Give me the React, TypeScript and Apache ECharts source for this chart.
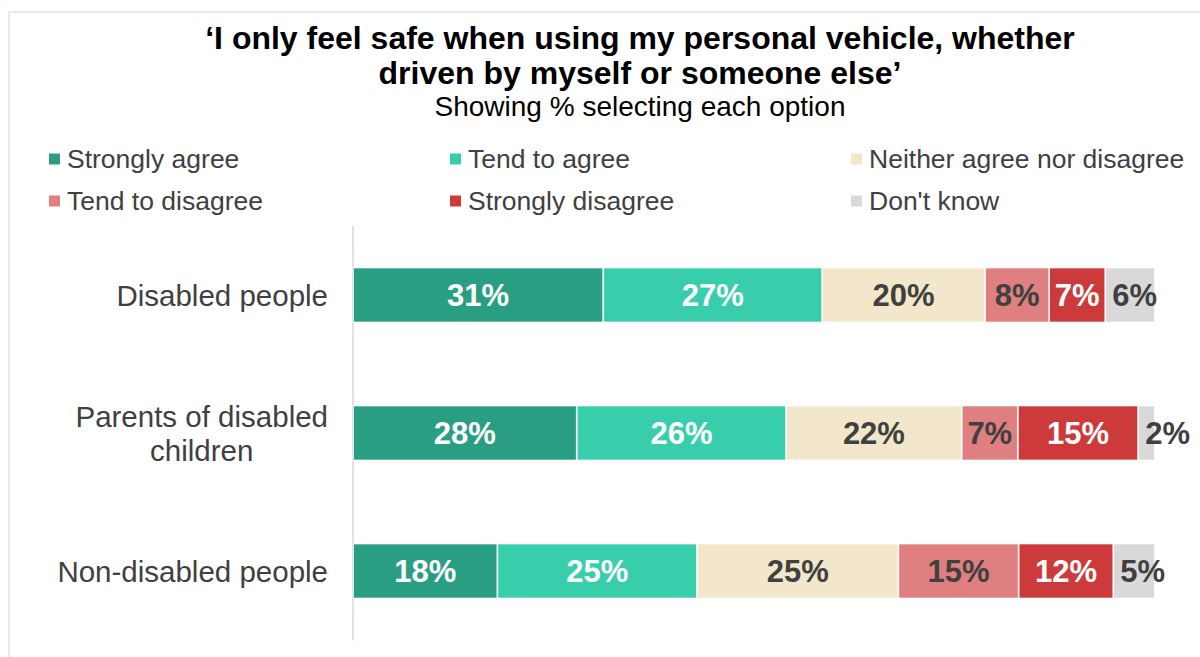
import React, { useEffect, useRef } from "react";
import * as echarts from "echarts";

const categories = ["Disabled people", "Parents of disabled\nchildren", "Non-disabled people"];
const seriesNames = [
  "Strongly agree",
  "Tend to agree",
  "Neither agree nor disagree",
  "Tend to disagree",
  "Strongly disagree",
  "Don't know",
];
const stronglyAgree = [31.2, 27.9, 18.0];
const tendToAgree = [27.3, 26.1, 24.9];
const neither = [20.3, 21.9, 25.1];
const tendToDisagree = [8.0, 7.0, 15.0];
const stronglyDisagree = [7.0, 15.0, 11.8];
const dontKnow = [6.2, 2.1, 5.2];

const seriesValues = [stronglyAgree, tendToAgree, neither, tendToDisagree, stronglyDisagree, dontKnow];
const colors = ["#299e82", "#38ceac", "#f3e7cb", "#df7f7f", "#cc3a3c", "#d9d9d9"];
const labelColors = ["#ffffff", "#ffffff", "#404040", "#404040", "#ffffff", "#404040"];

const FONT = "'Liberation Sans', Arial, sans-serif";

export default function App() {
  const ref = useRef<HTMLDivElement>(null);
  useEffect(() => {
    if (!ref.current) return;
    const chart = echarts.init(ref.current, null, { renderer: "svg" });
    const legendCols = [
      { left: 47, data: [seriesNames[0], seriesNames[3]] },
      { left: 448, data: [seriesNames[1], seriesNames[4]] },
      { left: 849, data: [seriesNames[2], seriesNames[5]] },
    ];
    chart.setOption({
      animation: false,
      backgroundColor: "#ffffff",
      color: colors,
      title: {
        text: "‘I only feel safe when using my personal vehicle, whether\ndriven by myself or someone else’",
        subtext: "Showing % selecting each option",
        left: 640,
        top: 20,
        textAlign: "center",
        padding: 0,
        itemGap: 1,
        textStyle: {
          fontFamily: FONT,
          fontSize: 32,
          fontWeight: "bold",
          color: "#000000",
          lineHeight: 35,
        },
        subtextStyle: {
          fontFamily: FONT,
          fontSize: 28,
          color: "#000000",
          lineHeight: 30,
        },
      },
      legend: legendCols.map((c) => ({
        left: c.left,
        top: 145,
        orient: "vertical",
        padding: 0,
        itemGap: 14,
        itemWidth: 13,
        itemHeight: 13,
        icon: "rect",
        data: c.data,
        selectedMode: false,
        textStyle: {
          fontFamily: FONT,
          fontSize: 26.5,
          color: "#404040",
          lineHeight: 28,
          padding: [0, 0, 0, 1],
        },
      })),
      grid: { left: 353, right: 45, top: 226, bottom: 17, containLabel: false },
      xAxis: {
        type: "value",
        min: 0,
        max: 100,
        show: false,
      },
      yAxis: {
        type: "category",
        data: categories,
        inverse: true,
        axisLine: { show: true, lineStyle: { color: "#d9d9d9", width: 1.5 } },
        axisTick: { show: false },
        axisLabel: {
          margin: 25,
          align: "right",
          fontFamily: FONT,
          fontSize: 29.5,
          color: "#404040",
          formatter: (v: string) =>
            v
              .split("\n")
              .map((line) => `{c|${line}}`)
              .join("\n"),
          rich: {
            c: {
              align: "center",
              fontFamily: FONT,
              fontSize: 29.5,
              color: "#404040",
              lineHeight: 34,
            },
          },
        },
      },
      graphic: [
        {
          type: "rect",
          shape: { x: 9, y: 12, width: 1300, height: 700 },
          style: { fill: "none", stroke: "#dcebf7", lineWidth: 2 },
          silent: true,
        },
      ],
      series: seriesNames.map((name, i) => ({
        name,
        type: "bar",
        stack: "total",
        barWidth: 55,
        data: seriesValues[i],
        itemStyle: { color: colors[i], borderColor: "#ffffff", borderWidth: 0.8 },
        label: {
          show: true,
          position: i === 5 ? "insideLeft" : "inside",
          distance: 7,
          formatter: (p: any) => `${Math.round(p.value)}%`,
          fontFamily: FONT,
          fontSize: 31,
          fontWeight: "bold",
          color: labelColors[i],
        },
      })),
    });
    return () => chart.dispose();
  }, []);
  return (
    <div
      ref={ref}
      style={{ position: "absolute", left: 0, top: 0, width: 1200, height: 657 }}
    />
  );
}
